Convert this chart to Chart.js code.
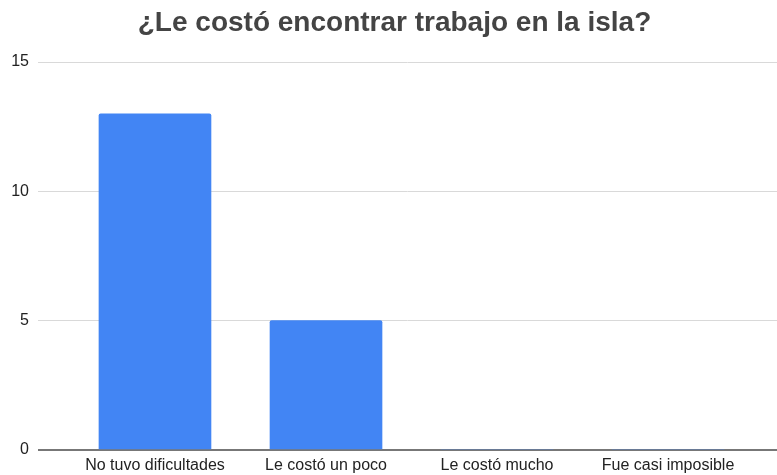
<!DOCTYPE html>
<html><head><meta charset="utf-8">
<script src="https://cdn.jsdelivr.net/npm/chart.js@4"></script>
<style>html,body{margin:0;padding:0;background:#fff}#wrap{width:777px;height:475px}</style>
</head><body><div id="wrap"><canvas id="c" width="777" height="475"></canvas></div>
<script>
const titleText = "¿Le costó encontrar trabajo en la isla?";
const categories = ["No tuvo dificultades", "Le costó un poco", "Le costó mucho", "Fue casi imposible"];
const values = [13, 5, 0, 0];
const yTicks = [0, 5, 10, 15];

const points = categories.map((c, i) => ({x: i, y: values[i]}));
const font = "Arial, 'Liberation Sans', sans-serif";

new Chart(document.getElementById('c'), {
  type: 'bar',
  data: { datasets: [{ data: points, backgroundColor: '#4285F4', borderWidth: 0, barThickness: 112, borderRadius: 2, borderSkipped: 'bottom' }] },
  options: {
    responsive: false, animation: false,
    layout: { padding: { top: 0, right: 0, bottom: 0, left: 12 } },
    plugins: {
      legend: { display: false }, tooltip: { enabled: false },
      title: { display: true, text: titleText, color: '#444', font: { family: font, size: 28, weight: 'bold' }, padding: { top: 6, bottom: 22.4 } }
    },
    scales: {
      x: {
        type: 'linear', min: -0.684, max: 3.637, offset: false,
        afterBuildTicks: s => { s.ticks = categories.map((c, i) => ({value: i})); },
        afterFit: s => { s.height = 25; },
        grid: { display: false, drawTicks: false, offset: false },
        border: { display: false },
        ticks: { callback: v => categories[v], color: '#222', font: { family: font, size: 16 }, padding: 6, maxRotation: 0, autoSkip: false }
      },
      y: {
        min: 0, max: 15,
        afterBuildTicks: s => { s.ticks = yTicks.map(v => ({value: v})); },
        afterFit: s => { s.width = 26; },
        grid: { color: c => c.tick.value === 0 ? '#777' : '#d9d9d9', lineWidth: c => c.tick.value === 0 ? 2 : 1, drawTicks: false },
        border: { display: false },
        ticks: { color: '#222', font: { family: font, size: 16 }, padding: 9 }
      }
    }
  }
});
</script></body></html>
